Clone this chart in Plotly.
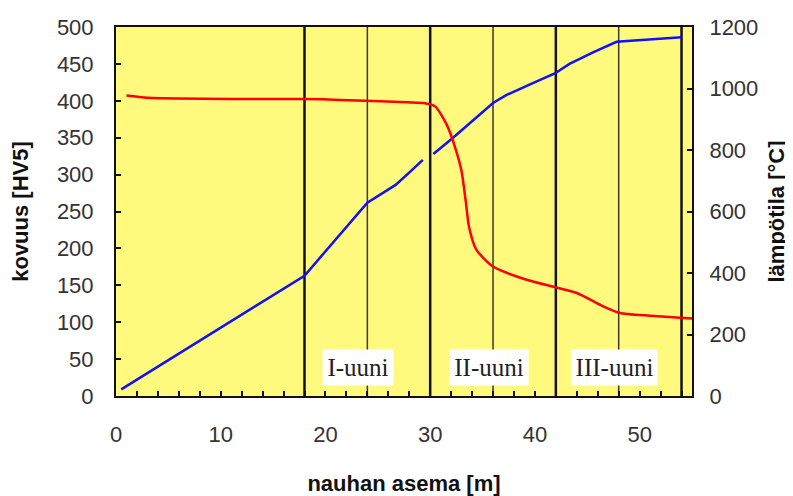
import plotly.graph_objects as go

# Hardness (left axis)
hard_x = [0.5, 18, 24, 26.7, 28.1, 29.3, None, 30.3, 32.1, 36.0, 37.3, 39.8, 41.9, 43.3, 45.6, 47.8, 54.0]
hard_y = [9, 163, 262, 286, 304, 320, None, 328, 349, 397, 408, 424, 437, 450, 466, 480, 486]

# Temperature (right axis)
temp_x = [1, 3, 12, 18, 21.4, 27.8, 29.5, 30.5, 31.6, 32.4, 33.0, 33.4, 33.7, 34.4, 36.0, 39.2, 41.9, 44.0, 46.5, 48.1, 51.0, 55]
temp_y = [977, 970, 966, 966, 963, 955, 952, 941, 881, 806, 730, 632, 551, 476, 421, 378, 354, 335, 292, 270, 261, 252]

thick_lines = [18, 30, 42, 54]
thin_lines = [24, 36, 48]

zone_labels = ["I-uuni", "II-uuni", "III-uuni"]
zone_label_x = [23.1, 35.6, 47.6]
zone_label_y = [39, 39, 39]
zone_box_w = [70, 78, 85]

fig = go.Figure()
fig.add_trace(go.Scatter(x=hard_x, y=hard_y, mode="lines",
                         line=dict(color="#1010FF", width=2.5), yaxis="y", showlegend=False))
fig.add_trace(go.Scatter(x=temp_x, y=temp_y, mode="lines",
                         line=dict(color="#FF0000", width=2.5, shape="spline", smoothing=0.6),
                         yaxis="y2", showlegend=False))

shapes = []
for xv in thick_lines:
    shapes.append(dict(type="line", xref="x", yref="paper", x0=xv, x1=xv, y0=0, y1=1,
                       line=dict(color="#111111", width=2.5), layer="below"))
for xv in thin_lines:
    shapes.append(dict(type="line", xref="x", yref="paper", x0=xv, x1=xv, y0=0, y1=1,
                       line=dict(color="#3a3a28", width=1.5), layer="below"))

annotations = []
for t, xv, yv, w in zip(zone_labels, zone_label_x, zone_label_y, zone_box_w):
    annotations.append(dict(x=xv, y=yv, xref="x", yref="y", text=t, showarrow=False,
                            bgcolor="white", width=w, height=35, borderpad=0,
                            font=dict(family="Liberation Serif", size=25, color="#222222")))

tickfont = dict(family="Liberation Sans, Arial", size=22, color="#333333")
titlefont = dict(family="Liberation Sans, Arial", size=22, color="#111111", weight="bold")

fig.update_layout(
    width=785, height=488,
    margin=dict(l=108, r=101, t=19, b=100),
    paper_bgcolor="white", plot_bgcolor="#FFFA7E",
    shapes=shapes, annotations=annotations,
    xaxis=dict(range=[0, 55], tickvals=[0, 10, 20, 30, 40, 50], ticks="inside", ticklen=5,
               tickcolor="#111111", tickwidth=1.5, automargin=False,
               minor=dict(dtick=2, ticks="inside", ticklen=5, tickcolor="#111111", tickwidth=1.5, showgrid=False),
               showgrid=False, zeroline=False, showline=True, linecolor="#111111", linewidth=2,
               mirror=True, tickfont=tickfont, ticklabelstandoff=18,
               title=dict(text="nauhan asema [m]", font=titlefont, standoff=32)),
    yaxis=dict(range=[0, 500], dtick=50, ticks="inside", ticklen=5, tickcolor="#111111", tickwidth=1.5,
               showgrid=False, zeroline=False, showline=True, linecolor="#111111", linewidth=2,
               tickfont=tickfont, ticklabelstandoff=16, automargin=False,
               title=dict(text="kovuus [HV5]", font=titlefont, standoff=24)),
    yaxis2=dict(range=[0, 1200], dtick=200, overlaying="y", side="right", ticks="inside", ticklen=5,
                tickcolor="#111111", tickwidth=1.5, showgrid=False, zeroline=False, showline=True,
                linecolor="#111111", linewidth=2, tickfont=tickfont, ticklabelstandoff=11,
                automargin=False,
                title=dict(text="lämpötila [°C]", font=titlefont, standoff=11)),
)

fig.write_html("out.html")
